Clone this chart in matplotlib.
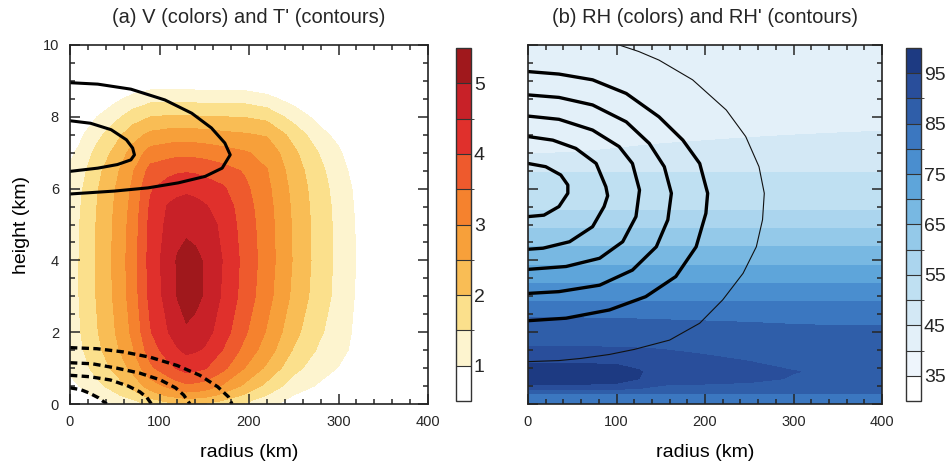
import numpy as np
import matplotlib
matplotlib.use("Agg")
import matplotlib.pyplot as plt
from matplotlib.colors import ListedColormap, BoundaryNorm

plt.rcParams['font.family'] = ['Liberation Sans', 'DejaVu Sans']
plt.rcParams['text.color'] = '#262626'
plt.rcParams['xtick.color'] = '#262626'
plt.rcParams['ytick.color'] = '#262626'

W, H = 952, 463

# ---- panel (a): V (colors) on a radius x height grid, one profile per radius
v_radius = [0, 10, 30, 50, 70, 90, 110, 120, 130, 140, 150, 170, 195, 220, 250, 280, 300, 315, 350, 400]
v_height = [0, 0.25, 0.5, 1, 1.5, 2, 3, 4, 5, 5.5, 6, 6.5, 7, 7.5, 8, 8.5, 9, 9.5, 10]
v_wind = [
    [0.5, 0.7, 0.88, 1.08, 1.2, 1.26, 1.3, 1.3, 1.28, 1.25, 1.18, 1.06, 0.92, 0.75, 0.55, 0.35, 0.17, 0.05, 0],
    [0.6, 0.82, 1.0, 1.25, 1.38, 1.45, 1.5, 1.5, 1.48, 1.44, 1.38, 1.25, 1.08, 0.88, 0.65, 0.42, 0.2, 0.06, 0],
    [0.8, 1.1, 1.35, 1.68, 1.86, 1.96, 2.03, 2.05, 2.03, 2.0, 1.95, 1.85, 1.65, 1.35, 1.0, 0.65, 0.32, 0.1, 0],
    [1.0, 1.4, 1.72, 2.12, 2.35, 2.48, 2.57, 2.6, 2.57, 2.54, 2.48, 2.35, 2.12, 1.8, 1.35, 0.88, 0.43, 0.13, 0],
    [1.25, 1.75, 2.15, 2.65, 2.95, 3.1, 3.22, 3.25, 3.2, 3.15, 3.08, 2.95, 2.68, 2.3, 1.75, 1.15, 0.56, 0.17, 0],
    [1.6, 2.25, 2.75, 3.4, 3.75, 3.97, 4.15, 4.2, 4.15, 4.08, 3.95, 3.68, 3.2, 2.62, 2.0, 1.35, 0.65, 0.2, 0],
    [1.85, 2.6, 3.1, 3.85, 4.25, 4.5, 4.7, 4.75, 4.62, 4.55, 4.25, 3.85, 3.3, 2.72, 2.05, 1.35, 0.65, 0.2, 0],
    [1.93, 2.72, 3.27, 4.05, 4.45, 4.75, 5.02, 5.05, 4.8, 4.65, 4.35, 3.92, 3.35, 2.75, 2.05, 1.35, 0.65, 0.2, 0],
    [2.0, 2.8, 3.4, 4.2, 4.6, 4.95, 5.15, 5.15, 4.9, 4.7, 4.4, 3.95, 3.35, 2.75, 2.05, 1.35, 0.65, 0.2, 0],
    [1.98, 2.76, 3.36, 4.14, 4.55, 4.88, 5.1, 5.1, 4.85, 4.65, 4.35, 3.92, 3.33, 2.73, 2.04, 1.34, 0.65, 0.2, 0],
    [1.95, 2.7, 3.3, 4.05, 4.45, 4.72, 4.97, 4.97, 4.75, 4.55, 4.28, 3.85, 3.3, 2.7, 2.02, 1.33, 0.64, 0.2, 0],
    [1.75, 2.4, 2.95, 3.65, 4.0, 4.25, 4.45, 4.5, 4.4, 4.3, 4.08, 3.7, 3.2, 2.62, 2.0, 1.33, 0.64, 0.2, 0],
    [1.45, 1.95, 2.4, 3.0, 3.35, 3.58, 3.8, 3.85, 3.78, 3.72, 3.62, 3.45, 3.05, 2.55, 1.98, 1.32, 0.62, 0.18, 0],
    [1.15, 1.5, 1.85, 2.4, 2.75, 2.95, 3.18, 3.25, 3.22, 3.18, 3.12, 3.02, 2.85, 2.45, 1.85, 1.15, 0.55, 0.15, 0],
    [0.8, 1.0, 1.25, 1.65, 1.95, 2.15, 2.38, 2.45, 2.43, 2.4, 2.35, 2.26, 2.1, 1.82, 1.3, 0.8, 0.4, 0.12, 0],
    [0.55, 0.75, 0.92, 1.2, 1.4, 1.55, 1.7, 1.75, 1.74, 1.72, 1.68, 1.6, 1.45, 1.15, 0.8, 0.5, 0.25, 0.08, 0],
    [0.42, 0.58, 0.72, 0.98, 1.15, 1.26, 1.36, 1.38, 1.37, 1.35, 1.3, 1.22, 1.08, 0.85, 0.6, 0.36, 0.17, 0.05, 0],
    [0.3, 0.42, 0.55, 0.8, 0.94, 0.99, 1.04, 1.07, 1.05, 1.03, 1.0, 0.9, 0.75, 0.56, 0.38, 0.22, 0.1, 0.03, 0],
    [0.12, 0.18, 0.24, 0.36, 0.44, 0.48, 0.5, 0.5, 0.49, 0.47, 0.44, 0.38, 0.3, 0.22, 0.15, 0.08, 0.03, 0.01, 0],
    [0.04, 0.05, 0.07, 0.1, 0.12, 0.13, 0.15, 0.15, 0.15, 0.14, 0.13, 0.11, 0.09, 0.07, 0.05, 0.03, 0.01, 0, 0],
]
v_levels = [1, 1.5, 2, 2.5, 3, 3.5, 4, 4.5, 5]
v_ticks = [1, 2, 3, 4, 5]
v_colors = ['#ffffff', '#fdf4cf', '#fbe08c', '#f9bd55', '#f7a03a', '#f5822e',
            '#ee5a2d', '#e0302c', '#c82128', '#a0181c']

# T' contour lines (solid = warm, dashed = cold)
tp_warm = [
    ([0, 31, 68, 106, 136, 158, 173, 179, 170, 151, 121, 87, 49, 0],
     [8.95, 8.91, 8.77, 8.47, 8.1, 7.69, 7.27, 6.94, 6.57, 6.34, 6.16, 6.02, 5.93, 5.85]),
    ([0, 23, 46, 63, 70, 72, 68, 53, 31, 0],
     [7.89, 7.82, 7.64, 7.36, 7.13, 6.94, 6.8, 6.67, 6.57, 6.48]),
]
tp_cold = [
    ([0, 30, 60, 90, 120, 145, 165, 177, 181], [1.57, 1.54, 1.45, 1.3, 1.07, 0.8, 0.48, 0.2, 0]),
    ([0, 25, 52, 78, 101, 118, 127, 134], [1.15, 1.12, 1.0, 0.86, 0.67, 0.45, 0.25, 0]),
    ([0, 22, 45, 65, 78, 86, 91], [0.8, 0.76, 0.67, 0.5, 0.34, 0.18, 0]),
    ([0, 12, 22, 32, 41], [0.45, 0.4, 0.3, 0.17, 0]),
]

# ---- panel (b): RH (colors), rows = heights
rh_radius = [0, 50, 100, 125, 150, 200, 250, 300, 350, 400]
rh_height = [0, 0.3, 0.5, 0.7, 0.9, 1.1, 1.4, 1.6, 2.0, 2.4, 2.85, 3.36, 3.87,
             4.4, 4.9, 5.4, 6.0, 6.45, 7.0, 7.6, 8.5, 10]
rh_value = [
    [82] * 10,
    [85.2] * 10,
    [94.5, 94.5, 94, 92.5, 89.5, 89, 88.5, 87.5, 87, 87],
    [97, 97, 96.5, 95, 93.5, 92.5, 91.5, 89.5, 88.5, 88],
    [97.5, 97.5, 97, 95.2, 94, 93, 92, 90.2, 89, 88.5],
    [95.3, 95.3, 95, 94.5, 93.5, 92, 90.5, 89, 88.5, 88.5],
    [92.5, 92.5, 92, 91.5, 91, 89.8, 88.8, 88.5, 88.3, 88.2],
    [90, 90, 89.8, 89.6, 89.4, 89, 88.3, 88, 87.8, 87.7],
    [87.5, 87.5, 87.3, 87.2, 87, 86.8, 86.5, 86.2, 86, 86],
    [85, 85, 84.9, 84.8, 84.7, 84.5, 84.3, 84, 83.8, 83.7],
    [80] * 10,
    [75] * 10,
    [70] * 10,
    [65] * 10,
    [60] * 10,
    [55] * 10,
    [52] * 10,
    [50] * 10,
    [44.8, 45.0, 45.3, 45.5, 45.7, 46, 46.4, 46.8, 47.2, 47.6],
    [43.5, 43.6, 43.8, 43.9, 44, 44.2, 44.4, 44.6, 44.8, 45.0],
    [42.5] * 10,
    [41] * 10,
]
rh_levels = list(range(35, 100, 5))
rh_ticks = [35, 45, 55, 65, 75, 85, 95]
rh_colors = ['#ffffff', '#eef5fc', '#e3f0f9', '#d3e8f5', '#bfe0f2', '#abd5ee', '#94c9e9',
             '#78b8e2', '#5ea5da', '#4a8ecf', '#3b77c0', '#2f5ea9', '#294e9b', '#1d3a82']

# RH' contour lines
rhp_thick = [
    ([0, 20, 37, 45, 45, 35, 18, 0], [6.70, 6.61, 6.38, 6.1, 5.87, 5.50, 5.26, 5.22]),
    ([0, 28, 54, 77, 88, 90, 86, 73, 47, 17, 0],
     [7.45, 7.35, 7.12, 6.70, 6.05, 5.8, 5.50, 4.94, 4.52, 4.34, 4.31]),
    ([0, 35, 73, 103, 118, 126, 122, 107, 81, 43, 0],
     [8.02, 7.93, 7.63, 7.17, 6.70, 5.96, 5.22, 4.52, 4.06, 3.83, 3.75]),
    ([0, 35, 73, 111, 137, 154, 162, 158, 145, 118, 81, 35, 0],
     [8.61, 8.54, 8.33, 7.86, 7.26, 6.61, 5.87, 5.13, 4.38, 3.73, 3.31, 3.13, 3.08]),
    ([0, 35, 73, 111, 148, 175, 194, 203, 201, 190, 167, 133, 92, 43, 0],
     [9.26, 9.19, 9.03, 8.65, 8.0, 7.35, 6.70, 5.87, 5.31, 4.38, 3.55, 2.99, 2.62, 2.39, 2.32]),
]
rhp_thin = ([103, 125, 148, 186, 224, 246, 261, 267, 265, 258, 243, 220, 194, 160, 120, 92, 60, 35, 0],
            [10, 9.82, 9.58, 9.03, 8.19, 7.45, 6.61, 5.87, 5.13, 4.38, 3.64, 2.90, 2.25, 1.78,
             1.52, 1.38, 1.27, 1.21, 1.18])


def px_box(x0, y0, x1, y1):
    return [x0 / W, 1 - y1 / H, (x1 - x0) / W, (y1 - y0) / H]


def style_axes(ax, ylabels=True):
    ax.set_xlim(0, 400)
    ax.set_ylim(0, 10)
    ax.set_xticks([0, 100, 200, 300, 400])
    ax.set_xticks(np.arange(0, 401, 20), minor=True)
    ax.set_yticks([0, 2, 4, 6, 8, 10])
    ax.set_yticks(np.arange(0, 10.01, 0.5), minor=True)
    ax.tick_params(which='both', direction='in', top=True, right=True, width=1.1)
    ax.tick_params(which='major', length=7, labelsize=10.5)
    ax.tick_params(which='minor', length=3.5)
    ax.tick_params(axis='x', pad=8)
    ax.tick_params(axis='y', pad=8, labelleft=ylabels)
    for s in ax.spines.values():
        s.set_linewidth(1.2)
        s.set_color('#222222')
    ax.set_xlabel('radius (km)', fontsize=14, labelpad=11)


def make_cmap(colors, levels):
    cmap = ListedColormap(colors[1:-1]).with_extremes(under=colors[0], over=colors[-1])
    return cmap, BoundaryNorm(levels, cmap.N)


def style_cbar(cb):
    cb.outline.set_linewidth(1.0)
    cb.outline.set_edgecolor('#333333')
    cb.dividers.set_color('#333333')
    cb.dividers.set_linewidth(0.8)
    cb.ax.tick_params(length=0, labelsize=14, pad=2)


fig = plt.figure(figsize=(W / 100, H / 100), dpi=100)

# (a)
ax_a = fig.add_axes(px_box(70, 45, 428, 404))
cmap_v, norm_v = make_cmap(v_colors, v_levels)
cf_a = ax_a.contourf(v_radius, v_height, np.array(v_wind).T, levels=v_levels,
                     cmap=cmap_v, norm=norm_v, extend='both')
for r, z in tp_warm:
    ax_a.plot(r, z, color='black', lw=2.2, solid_joinstyle='round')
for r, z in tp_cold:
    ax_a.plot(r, z, color='black', lw=2.4, dashes=(2.2, 1.3))
style_axes(ax_a)
ax_a.set_ylabel('height (km)', fontsize=14, labelpad=9)
ax_a.set_title("(a) V (colors) and T' (contours)", fontsize=14.5, pad=16)

cax_a = fig.add_axes(px_box(456, 48, 471, 401))
cb_a = fig.colorbar(cf_a, cax=cax_a, ticks=v_ticks, drawedges=True,
                    extendrect=True, extendfrac='auto')
style_cbar(cb_a)

# (b)
ax_b = fig.add_axes(px_box(528, 45, 882, 404))
cmap_rh, norm_rh = make_cmap(rh_colors, rh_levels)
cf_b = ax_b.contourf(rh_radius, rh_height, np.array(rh_value), levels=rh_levels,
                     cmap=cmap_rh, norm=norm_rh, extend='both')
for r, z in rhp_thick:
    ax_b.plot(r, z, color='black', lw=2.4, solid_joinstyle='round')
ax_b.plot(rhp_thin[0], rhp_thin[1], color='#111111', lw=0.8)
style_axes(ax_b, ylabels=False)
ax_b.set_title("(b) RH (colors) and RH' (contours)", fontsize=14.5, pad=16)

cax_b = fig.add_axes(px_box(906, 48, 921, 401))
cb_b = fig.colorbar(cf_b, cax=cax_b, ticks=rh_ticks, drawedges=True,
                    extendrect=True, extendfrac='auto')
style_cbar(cb_b)

fig.savefig('out.png', dpi=100)
